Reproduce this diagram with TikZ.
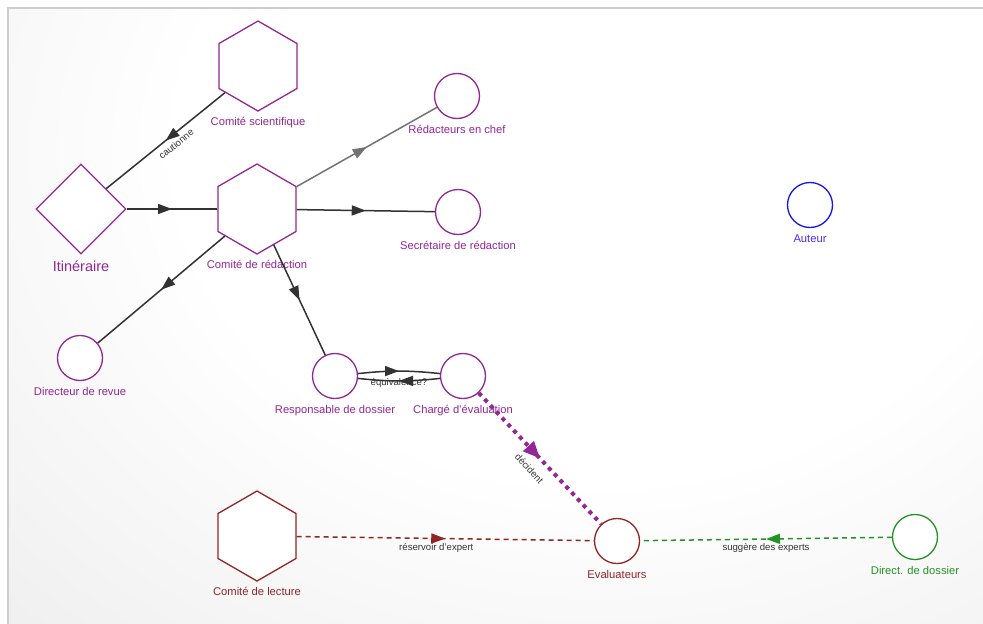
\documentclass[tikz,border=0pt]{standalone}
\usepackage{fontspec}
\setmainfont{Liberation Sans}
\usepackage{xcolor}
\usepackage{tikz}
\usetikzlibrary{arrows.meta,positioning,shapes.geometric,decorations.markings}

\definecolor{orgpurple}{RGB}{148,38,150}
\definecolor{readred}{RGB}{146,36,36}
\definecolor{filegreen}{RGB}{36,146,36}
\definecolor{authorblue}{RGB}{20,20,240}
\definecolor{authortext}{RGB}{80,40,240}
\definecolor{linkdark}{RGB}{50,50,50}
\definecolor{linklight}{RGB}{115,115,115}
\definecolor{framegray}{RGB}{205,205,205}

\pgfdeclareradialshading{paper}{\pgfpoint{0bp}{0bp}}{color(0bp)=(white); color(15bp)=(white); color(50bp)=(black!14)}

\begin{document}
\begin{tikzpicture}[x=1pt,y=-1pt,
  group/.style={regular polygon,regular polygon sides=6,regular polygon rotate=30,draw=#1,fill=white,line width=1.3pt,minimum size=90pt,inner sep=0pt},
  group/.default=orgpurple,
  role/.style={circle,draw=#1,fill=white,line width=1.3pt,minimum size=45pt,inner sep=0pt},
  role/.default=orgpurple,
  project/.style={diamond,draw=#1,fill=white,line width=1.3pt,minimum width=90pt,minimum height=90pt,inner sep=0pt},
  project/.default=orgpurple,
  caption/.style={text=#1,font=\fontsize{11.2}{13}\selectfont,text height=8pt,text depth=2pt,inner sep=1pt},
  caption/.default=orgpurple,
  edge text/.style={text=black!80,font=\fontsize{9.6}{11}\selectfont,inner sep=2pt},
  link/.style={line width=1.5pt,postaction={decorate},
    decoration={markings,mark=at position 0.5 with {\arrow{Triangle[length=14pt,width=10pt]}}}},
  bold link/.style={line width=4pt,dash pattern=on 4pt off 4.5pt,postaction={decorate},
    decoration={markings,mark=at position 0.5 with {\arrow{Triangle[length=17pt,width=14pt]}}}}
]

% frame
\useasboundingbox (0,0) rectangle (983,624);
\fill[white] (0,0) rectangle (983,624);
\begin{scope}
  \clip (8,8) rectangle (983,624);
  \shade[shading=paper] (-100,-400) rectangle (1300,700);
\end{scope}
\draw[framegray,line width=1.5pt] (983,8) -- (8,8) -- (8,624);

% groups and roles
\node[group] (cs) at (258,66) {};
\node[project] (itin) at (81,209) {};
\node[group] (cr) at (257,209) {};
\node[role] (chief) at (457,96) {};
\node[role] (secr) at (458,212) {};
\node[role=authorblue] (author) at (810,205) {};
\node[role] (dirrev) at (80,358) {};
\node[role] (resp) at (335,376) {};
\node[role] (charge) at (463,376) {};
\node[group=readred] (cl) at (257,536) {};
\node[role=readred] (eval) at (617,541) {};
\node[role=filegreen] (dd) at (915,537) {};

% captions
\node[caption,below=5pt of cs] (cs-l) {Comité scientifique};
\node[caption,font=\fontsize{14.5}{16}\selectfont,text height=11pt,text depth=3pt,below=5pt of itin] (itin-l) {Itinéraire};
\node[caption,below=5pt of cr] (cr-l) {Comité de rédaction};
\node[caption,below=5pt of chief] (chief-l) {Rédacteurs en chef};
\node[caption,below=5pt of secr] (secr-l) {Secrétaire de rédaction};
\node[caption=authortext,below=5pt of author] (author-l) {Auteur};
\node[caption,below=5pt of dirrev] (dirrev-l) {Directeur de revue};
\node[caption,below=5pt of resp] (resp-l) {Responsable de dossier};
\node[caption,below=5pt of charge] (charge-l) {Chargé d'évaluation};
\node[caption=readred,below=5pt of cl] (cl-l) {Comité de lecture};
\node[caption=readred,below=5pt of eval] (eval-l) {Evaluateurs};
\node[caption=filegreen,below=5pt of dd] (dd-l) {Direct. de dossier};

% links
\draw[link,linkdark] (cs) -- node[edge text,sloped,below=3pt,pos=0.46] {cautionne} (itin);
\draw[link,linkdark] (itin) -- (cr);
\draw[link,linklight] (cr) -- (chief);
\draw[link,linkdark] (cr) -- (secr);
\draw[link,linkdark] (cr) -- (dirrev);
\draw[link,linkdark] (cr) -- (resp);
\draw[link,linkdark] (resp) to[bend left=6] (charge);
\draw[link,linkdark] (charge) to[bend left=6] node[edge text,yshift=-2pt] {équivalence?} (resp);
\draw[bold link,orgpurple] (charge) -- node[edge text,sloped,below=7pt] {décident} (eval);
\draw[link,readred,dash pattern=on 5pt off 4pt] (cl) -- node[edge text,below=2pt,pos=0.47] {réservoir d'expert} (eval);
\draw[link,filegreen,dash pattern=on 5pt off 4pt] (dd) -- node[edge text,below=2pt] {suggère des experts} (eval);

\end{tikzpicture}
\end{document}
